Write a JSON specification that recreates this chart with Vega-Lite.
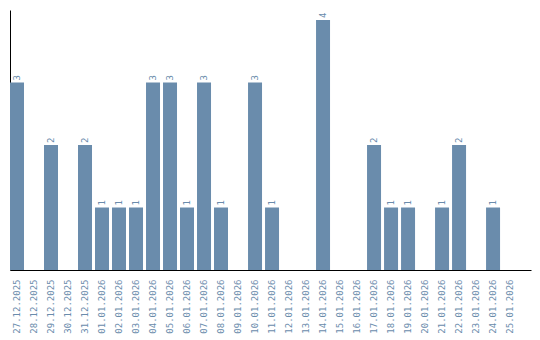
{
  "$schema": "https://vega.github.io/schema/vega-lite/v6.json",
  "width": 521,
  "height": 260,
  "autosize": {"type": "none"},
  "padding": {"left": 10, "top": 10, "right": 9, "bottom": 70},
  "background": "white",
  "config": {"view": {"stroke": null}},
  "data": {"values": [
    {"d": "27.12.2025", "v": 3},
    {"d": "28.12.2025", "v": 0},
    {"d": "29.12.2025", "v": 2},
    {"d": "30.12.2025", "v": 0},
    {"d": "31.12.2025", "v": 2},
    {"d": "01.01.2026", "v": 1},
    {"d": "02.01.2026", "v": 1},
    {"d": "03.01.2026", "v": 1},
    {"d": "04.01.2026", "v": 3},
    {"d": "05.01.2026", "v": 3},
    {"d": "06.01.2026", "v": 1},
    {"d": "07.01.2026", "v": 3},
    {"d": "08.01.2026", "v": 1},
    {"d": "09.01.2026", "v": 0},
    {"d": "10.01.2026", "v": 3},
    {"d": "11.01.2026", "v": 1},
    {"d": "12.01.2026", "v": 0},
    {"d": "13.01.2026", "v": 0},
    {"d": "14.01.2026", "v": 4},
    {"d": "15.01.2026", "v": 0},
    {"d": "16.01.2026", "v": 0},
    {"d": "17.01.2026", "v": 2},
    {"d": "18.01.2026", "v": 1},
    {"d": "19.01.2026", "v": 1},
    {"d": "20.01.2026", "v": 0},
    {"d": "21.01.2026", "v": 1},
    {"d": "22.01.2026", "v": 2},
    {"d": "23.01.2026", "v": 0},
    {"d": "24.01.2026", "v": 1},
    {"d": "25.01.2026", "v": 0}
  ]},
  "encoding": {
    "x": {
      "field": "d", "type": "ordinal", "sort": null,
      "scale": {"paddingInner": 0.1765, "paddingOuter": 0.41, "align": 0},
      "axis": {
        "title": null, "ticks": false, "labelAngle": 270, "labelPadding": 9,
        "labelFont": "DejaVu Sans Mono", "labelFontSize": 9, "labelColor": "#6a8cac",
        "domainColor": "#000000", "domainWidth": 1, "labelOverlap": false
      }
    },
    "y": {
      "field": "v", "type": "quantitative",
      "scale": {"domain": [0, 4.16], "nice": false},
      "axis": {"title": null, "ticks": false, "labels": false, "grid": false, "domainColor": "#000000", "domainWidth": 1}
    }
  },
  "layer": [
    {"mark": {"type": "bar", "color": "#6a8cac"}},
    {
      "transform": [{"filter": "datum.v > 0"}],
      "mark": {"type": "text", "angle": 270, "align": "left", "baseline": "middle", "dx": 2, "font": "DejaVu Sans Mono", "fontSize": 9, "color": "#6a8cac"},
      "encoding": {"text": {"field": "v", "type": "quantitative"}}
    }
  ]
}
